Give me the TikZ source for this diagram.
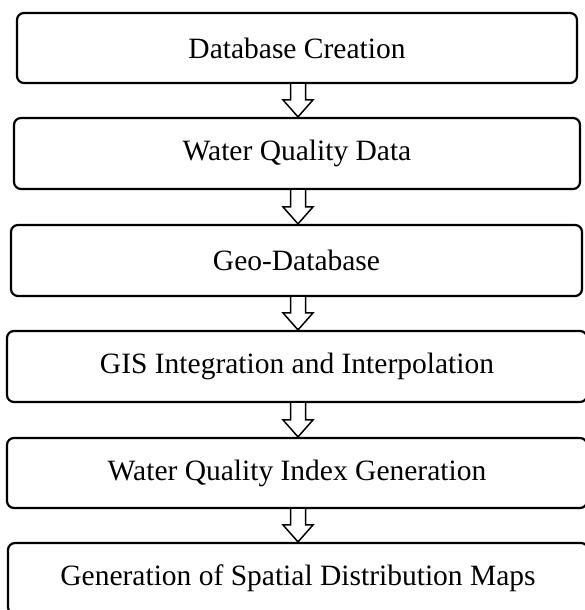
\documentclass[tikz,border=0pt]{standalone}
\usepackage{fontspec}
\setmainfont{Liberation Serif}
\usetikzlibrary{calc}
\tikzset{
  stepbox/.style={draw=black, line width=2.2pt, rounded corners=7pt, rectangle,
    inner sep=0pt, font=\fontsize{29.5}{34}\selectfont, text=black},
  flowarr/.style={draw=black, line width=1.5pt, line join=miter, fill=white}
}
\newcommand\flowarrow[2]{%
  \draw[flowarr] ($(ax|-#1.south)+(-7.5,0)$) -- ($(ax|-#2.north)+(-7.5,17)$)
    -- ($(ax|-#2.north)+(-15,17)$) -- (ax|-#2.north)
    -- ($(ax|-#2.north)+(15,17)$) -- ($(ax|-#2.north)+(7.5,17)$)
    -- ($(ax|-#1.south)+(7.5,0)$);}
\begin{document}
\begin{tikzpicture}[x=1pt,y=1pt]
\fill[white] (0,0) rectangle (584,610);
\coordinate (ax) at (298,300);
\node[stepbox, minimum width=560pt, minimum height=70pt] (b1) at (297,562) {Database Creation};
\node[stepbox, minimum width=566pt, minimum height=71pt] (b2) at (297,456.5) {Water Quality Data};
\node[stepbox, minimum width=571pt, minimum height=71pt] (b3) at (296.5,349.5) {Geo-Database};
\node[stepbox, minimum width=580pt, minimum height=71pt] (b4) at (297,243.5) {GIS Integration and Interpolation};
\node[stepbox, minimum width=580pt, minimum height=70pt] (b5) at (297,137) {Water Quality Index Generation};
\node[stepbox, minimum width=580pt, minimum height=71pt] (b6) at (298,31.5) {Generation of Spatial Distribution Maps};
\flowarrow{b1}{b2}
\flowarrow{b2}{b3}
\flowarrow{b3}{b4}
\flowarrow{b4}{b5}
\flowarrow{b5}{b6}
\pgfresetboundingbox
\path[use as bounding box] (0,0) rectangle (584,610);
\end{tikzpicture}
\end{document}
